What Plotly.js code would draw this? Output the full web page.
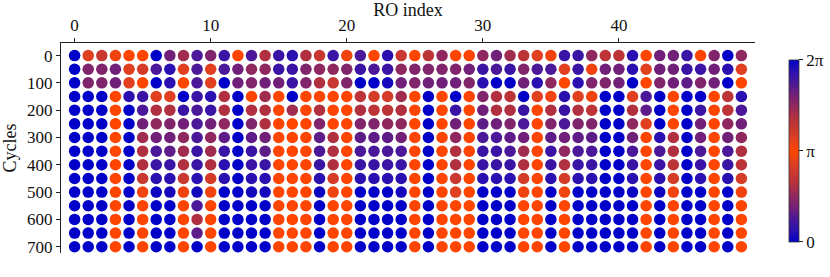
<!DOCTYPE html>
<html>
<head>
<meta charset="utf-8">
<script src="https://cdn.plot.ly/plotly-3.0.1.min.js"></script>
<style>html,body{margin:0;padding:0;background:#fff;}#chart{width:830px;height:277px;}</style>
</head>
<body>
<div id="chart"></div>
<script>
// RO index (columns) and cycles (rows)
const roIndex = Array.from({length: 50}, (_, i) => i);
const cycles = [0, 50, 100, 150, 200, 250, 300, 350, 400, 450, 500, 550, 600, 650, 700];
const xTickVals = [0, 10, 20, 30, 40];
const yTickVals = [0, 100, 200, 300, 400, 500, 600, 700];
const cbTickVals = [0, Math.PI, 2 * Math.PI];
const cbTickText = ['0', 'π', '2π'];

// Phase per RO, in units of pi/8 (color map is symmetric about pi)
const c000 = [0,7,6,7.5,8,8,0,3,4.5,2,3.5,1.5,8,2,5,1.5,1,5,6,1.5,7.5,2,8,1,6,8,5.5,4,8,8,4,3,4.5,5.5,7,7.5,1.5,1.5,4,5.5,5.5,1,8,3,3,1.5,8,3.5,0,4];
const c050 = [0,3.5,3.5,3,7,6.5,2,1,7,2,7,2,3,4,4,1.5,1.5,3.5,4,4,3.5,1.5,2,1.5,4,3.5,3.5,3.5,3.5,3,1.5,2,1.5,3.5,2,2,7,1.5,7.5,3,3,1,7,3,3,1.5,1.5,3,1,7];
const c100 = [0,3.5,3.5,3,7,8,0,1,8,2,7,0,3,3.5,3,3,1.5,3.5,5,6,3.5,0,0,0.5,3,3.5,3,3,3,3.5,1,0,0,3,1,4,8,1,3.5,3.5,3,0,8,3.5,3,2.5,3.5,3,0,8];
const c150 = [0,0,0,8,1,1.5,7,7,0,1.5,1,5,0,8,4.5,8,0,8,8,8,8,5.5,6.5,6.5,4.5,8,0,8,0,8,3.5,5,5.5,0,7,7.5,1,7,7.5,0,0,7,2,0,8,0,0,8,5.5,1];
const c200 = [0,0,0,8,0,2,5,5,1.5,2,1.5,5,0,5,5,8,4.5,8,5,8,8,5,5.5,5.5,5,8,0,8,1.5,8,3,5,5,1.5,8,5,1.5,5,5.5,0,0,5,2.5,0,8,0,1.5,8,5.5,2];
const c250 = [0,0,0,8,0,3,4,3.5,3,2,3,4,0,3.5,5,8,8,8,3.5,8,8,3.5,3.5,4,4,8,0,8,3,8,2.5,3,3.5,2,8,3.5,2,3.5,3.5,0,0,4,7,0,8,0,3,8,4,3];
const c300 = [0,0,0,8,0,4.5,3,3,4,2,4,2.5,0,2.5,3,8,8,8,2.5,5,8,2.5,2.5,2.5,3,8,0,8,4,8,2,2,2.5,3,8,2.5,3,2.5,2.5,0,0,3,8,1,5,0,3,8,3,4];
const c350 = [0,0,0,8,0,5,2,2.5,4.5,1.5,4.5,1.5,0,1.5,2.5,8,8,8,2,5,8,2,2,2,2,8,0,8,5,8,1.5,1.5,2,4.5,8,1.5,4,2,2,0,0,2,8,2,5,0,2,8,2,5];
const c400 = [0,0,0,8,0,5,1.5,1.5,5,1.5,5,1,0,1.5,1.5,8,8,8,1.5,5,8,1.5,1.5,1.5,1.5,8,0,8,5,8,1.5,1.5,1.5,5,8,1.5,5,1.5,1.5,0,0,1.5,8,1.5,5.5,0,1.5,8,1.5,5.5];
const c450 = [0,0,0,8,0,6,1,1,6,1,6.5,1,0,1,1,8,8,8,1,6.5,8,1,1,1,1,8,0,8,6,8,1,1,1,6.5,8,1,6.5,1,1,0,0,1,8,1,6.5,0,1,8,1,6.5];
const c500 = [0,0,0,8,0,7.5,0.3,0.5,7.5,0.5,7.5,0,0,0.5,0.5,8,8,8,0.3,7.5,8,0,0,0,0.5,8,0,8,7,8,0,0,0,7.5,8,0,7.5,0,0,0,0,0.3,8,0.3,7.5,0,0,8,0,7.5];
const c550 = [0,0,0,8,0,8,0,0,8,2,8,0,0,0,0,8,8,8,0,8,8,0,0,0,0,8,0,8,8,8,0,0,0,8,8,0,8,0,0,0,0,0,8,0,8,0,0,8,0,8];
const c600 = [0,0,0,8,0,8,0,0,8,5,8,0,0,0,0,8,8,8,0,8,8,0,0,0,0,8,0,8,8,8,0,0,0,8,8,0,8,0,0,0,0,0,8,0,8,0,0,8,0,8];
const c650 = [0,0,0,8,0,8,0,0,8,2.5,8,0,0,0,0,8,8,8,0,8,8,0,0,0,0,8,0,8,8,8,0,0,0,8,8,0,8,0,0,0,0,0,8,0,8,0,0,8,0,8];
const c700 = [0,0,0,8,0,8,0,0,8,0,8,0,0,0,0,8,8,8,0,8,8,0,0,0,0,8,0,8,8,8,0,0,0,8,8,0,8,0,0,0,0,0,8,0,8,0,0,8,0,8];
const phaseRows = [c000,c050,c100,c150,c200,c250,c300,c350,c400,c450,c500,c550,c600,c650,c700];

const xs = [], ys = [], cs = [];
cycles.forEach((cy, r) => {
  roIndex.forEach((ro, i) => {
    xs.push(ro); ys.push(cy); cs.push(phaseRows[r][i] * Math.PI / 8);
  });
});

const cmap = [
  [0.0, '#0000c8'], [0.0625, '#2a10b0'], [0.125, '#4a1898'], [0.1875, '#702078'],
  [0.25, '#902860'], [0.3125, '#b03040'], [0.375, '#c83830'], [0.4375, '#e04020'],
  [0.5, '#ff4500'],
  [0.5625, '#e04020'], [0.625, '#c83830'], [0.6875, '#b03040'], [0.75, '#902860'],
  [0.8125, '#702078'], [0.875, '#4a1898'], [0.9375, '#2a10b0'], [1.0, '#0000c8']
];

const font = {family: '"Liberation Serif", "DejaVu Serif", serif', color: '#111'};

const trace = {
  type: 'scatter', mode: 'markers', x: xs, y: ys,
  marker: {
    size: 11.5, color: cs, colorscale: cmap, cmin: 0, cmax: 2 * Math.PI,
    line: {width: 0},
    showscale: true,
    colorbar: {
      thickness: 10, lenmode: 'pixels', len: 182,
      x: 1.049, xanchor: 'left', xref: 'paper', xpad: 0,
      y: 0.486, yanchor: 'middle', ypad: 0,
      tickvals: cbTickVals, ticktext: cbTickText,
      ticks: 'outside', ticklen: 4, tickwidth: 1, tickcolor: '#222',
      tickfont: Object.assign({size: 17}, font),
      outlinewidth: 0.8, outlinecolor: '#333'
    }
  },
  hoverinfo: 'skip'
};

const layout = {
  width: 830, height: 277,
  margin: {l: 61, r: 75, t: 43, b: 24, autoexpand: false},
  paper_bgcolor: '#fff', plot_bgcolor: '#fff',
  showlegend: false,
  font: Object.assign({size: 17}, font),
  xaxis: {
    side: 'top', range: [-1, 50], showgrid: false, zeroline: false,
    showline: true, linecolor: '#222', linewidth: 1,
    ticks: 'outside', ticklen: 4, tickwidth: 1, tickcolor: '#222',
    tickvals: xTickVals, tickfont: Object.assign({size: 17}, font),
    title: {text: 'RO index', font: Object.assign({size: 18}, font), standoff: 4},
    automargin: false
  },
  yaxis: {
    range: [723, -46], showgrid: false, zeroline: false,
    showline: true, linecolor: '#222', linewidth: 1,
    ticks: 'outside', ticklen: 4, tickwidth: 1, tickcolor: '#222',
    tickvals: yTickVals, tickfont: Object.assign({size: 17}, font),
    title: {text: 'Cycles', font: Object.assign({size: 18}, font), standoff: 6},
    automargin: false
  }
};

Plotly.newPlot('chart', [trace], layout, {displayModeBar: false, staticPlot: true});
</script>
</body>
</html>
